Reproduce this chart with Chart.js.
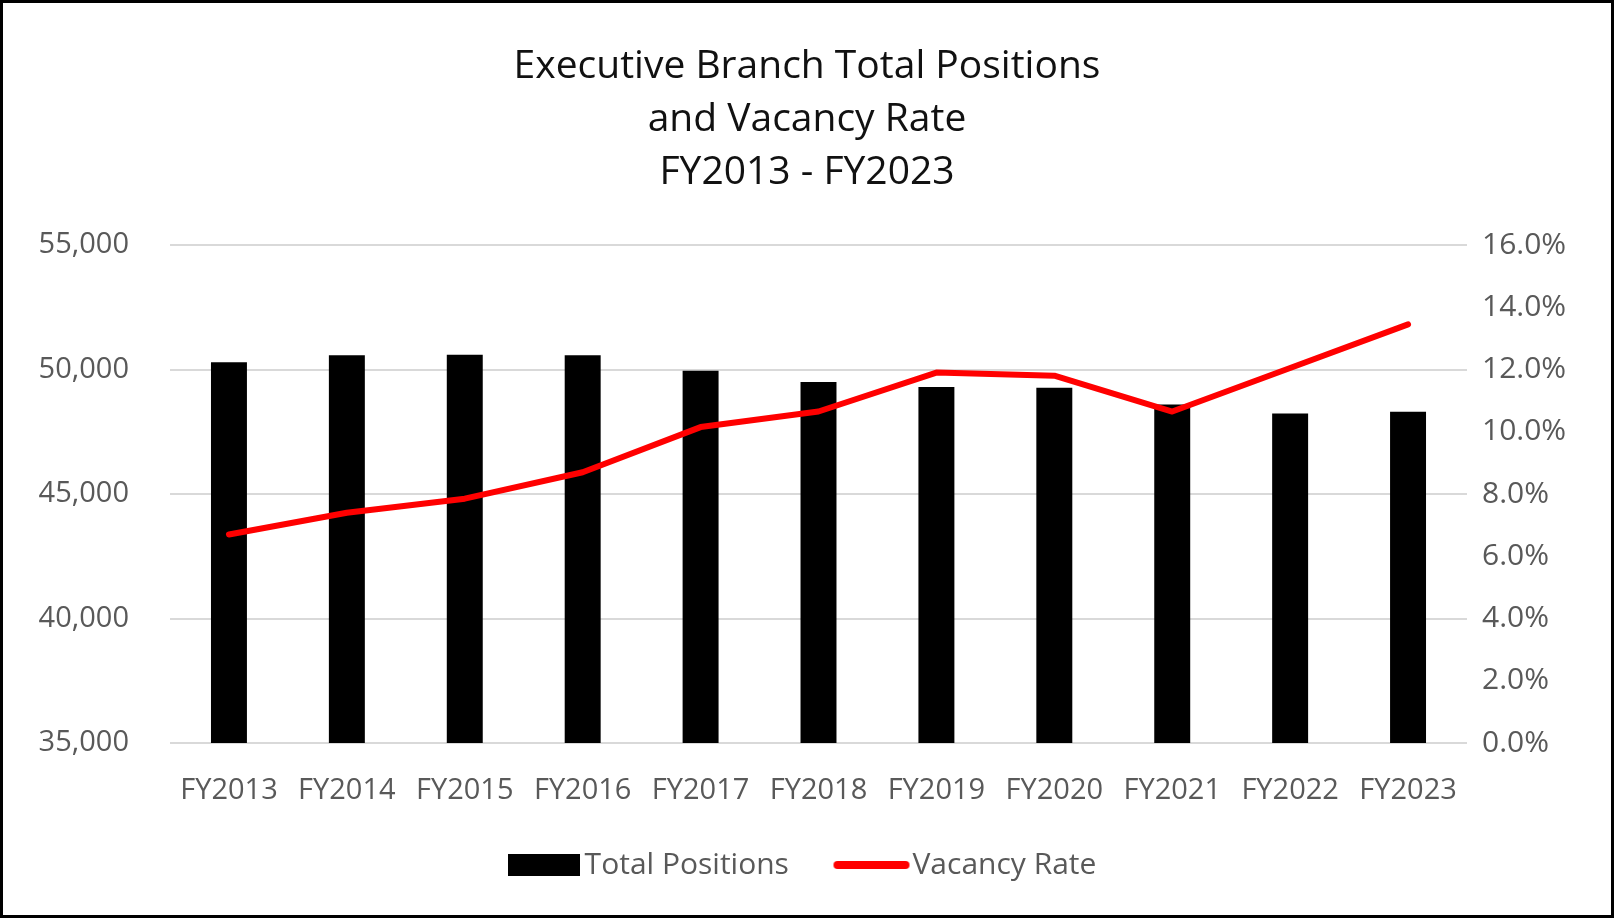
<!DOCTYPE html>
<html lang="en">
<head>
    <meta charset="UTF-8">
    <title>Executive Branch Total Positions and Vacancy Rate</title>
    <script src="https://cdn.jsdelivr.net/npm/chart.js"></script>
    <style>
        body { margin: 0; background: #fff; }
        #wrap { width: 1614px; height: 918px; box-sizing: border-box; border: 3px solid #000; position: relative; }
    </style>
</head>
<body>
    <div id="wrap"><canvas id="myChart"></canvas></div>
    <script>
        const years = ['FY2013', 'FY2014', 'FY2015', 'FY2016', 'FY2017', 'FY2018', 'FY2019', 'FY2020', 'FY2021', 'FY2022', 'FY2023'];
        const totalPositions = [50290, 50570, 50590, 50570, 49950, 49500, 49300, 49270, 48590, 48230, 48300];
        const vacancyRate = [6.7, 7.4, 7.85, 8.7, 10.15, 10.65, 11.9, 11.8, 10.65, 12.05, 13.45];
        const leftTicks = [35000, 55000, 5000];
        const rightTicks = [0, 16, 2];

        const font = "'Open Sans', sans-serif";
        const grey = '#595959';

        // legend swatches
        const barSwatch = document.createElement('canvas');
        barSwatch.width = 72; barSwatch.height = 22;
        let c = barSwatch.getContext('2d');
        c.fillStyle = '#000';
        c.fillRect(0, 0, 72, 22);

        const lineSwatch = document.createElement('canvas');
        lineSwatch.width = 78; lineSwatch.height = 10;
        c = lineSwatch.getContext('2d');
        c.strokeStyle = '#ff0000';
        c.lineWidth = 8;
        c.lineCap = 'round';
        c.beginPath(); c.moveTo(5, 5); c.lineTo(73, 5); c.stroke();

        const ctx = document.getElementById('myChart').getContext('2d');
        new Chart(ctx, {
            data: {
                labels: years,
                datasets: [{
                    type: 'bar',
                    label: 'Total Positions',
                    data: totalPositions,
                    backgroundColor: '#000',
                    barPercentage: 0.305,
                    categoryPercentage: 1,
                    yAxisID: 'y',
                    order: 2
                }, {
                    type: 'line',
                    label: 'Vacancy Rate',
                    data: vacancyRate,
                    borderColor: '#ff0000',
                    backgroundColor: '#ff0000',
                    borderWidth: 6,
                    borderCapStyle: 'round',
                    borderJoinStyle: 'round',
                    pointRadius: 0,
                    tension: 0,
                    yAxisID: 'y1',
                    order: 1
                }]
            },
            options: {
                responsive: true,
                maintainAspectRatio: false,
                animation: false,
                layout: { padding: { top: 0, bottom: 25, left: 0, right: 0 } },
                scales: {
                    x: {
                        grid: { display: false, drawTicks: false },
                        border: { display: false },
                        ticks: { color: grey, font: { family: font, size: 29 }, padding: 30, maxRotation: 0 },
                        afterFit: s => { s.height = 66; }
                    },
                    y: {
                        position: 'left',
                        min: leftTicks[0], max: leftTicks[1],
                        grid: { color: '#d9d9d9', lineWidth: 2, drawTicks: false },
                        border: { display: false },
                        ticks: {
                            stepSize: leftTicks[2], color: grey, padding: 41,
                            font: { family: font, size: 29 },
                            callback: v => v.toLocaleString('en-US')
                        },
                        afterFit: s => { s.width = 167; }
                    },
                    y1: {
                        position: 'right',
                        min: rightTicks[0], max: rightTicks[1],
                        grid: { display: false, drawTicks: false },
                        border: { display: false },
                        ticks: {
                            stepSize: rightTicks[2], color: grey, padding: 15,
                            font: { family: font, size: 30 },
                            callback: v => v.toFixed(1) + '%'
                        },
                        afterFit: s => { s.width = 144; }
                    }
                },
                plugins: {
                    title: {
                        display: true,
                        text: ['Executive Branch Total Positions', 'and Vacancy Rate', 'FY2013 - FY2023'],
                        color: '#111',
                        font: { family: font, size: 39, weight: 'normal', lineHeight: 53 / 39 },
                        padding: { top: 37, bottom: 46 }
                    },
                    legend: {
                        position: 'bottom',
                        labels: {
                            color: grey,
                            font: { family: font, size: 30 },
                            usePointStyle: true,
                            pointStyleWidth: 52,
                            padding: 41,
                            generateLabels: chart => chart.data.datasets.map((d, i) => ({
                                text: i === 0 ? d.label + '  ' : d.label,
                                fillStyle: d.backgroundColor,
                                strokeStyle: d.borderColor,
                                lineWidth: 0,
                                pointStyle: i === 0 ? barSwatch : lineSwatch,
                                fontColor: grey,
                                datasetIndex: i,
                                hidden: false
                            }))
                        }
                    },
                    tooltip: { enabled: false }
                }
            }
        });
    </script>
</body>
</html>
